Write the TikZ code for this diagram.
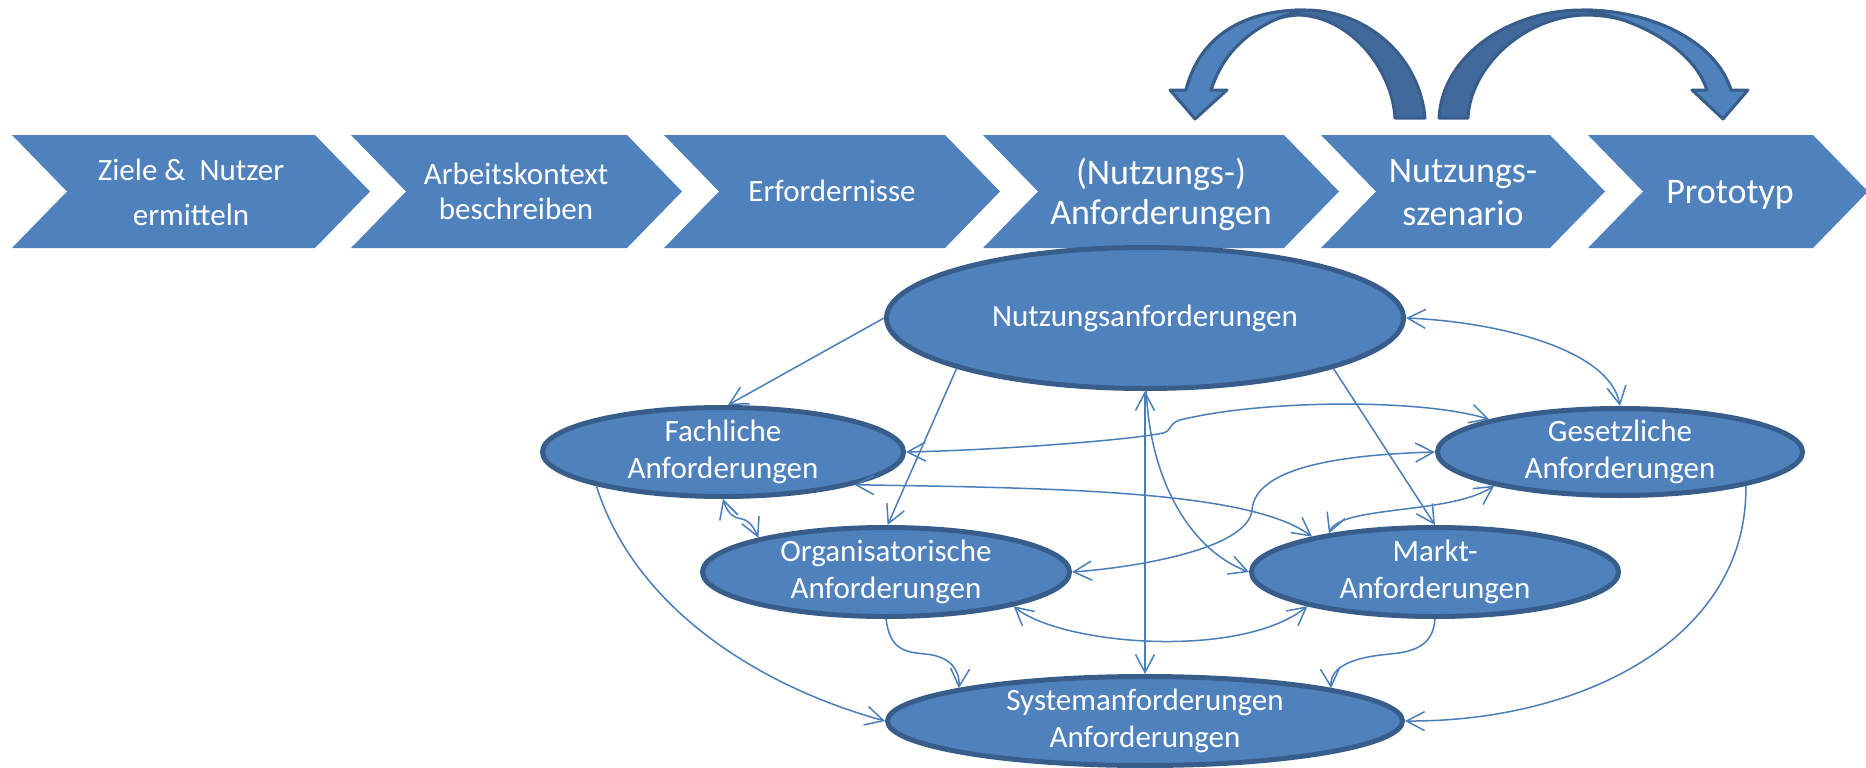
\documentclass[tikz,border=0pt]{standalone}
\usepackage{fontspec}
\setmainfont{Carlito}
\usetikzlibrary{arrows.meta,shapes.geometric}
\definecolor{boxblue}{HTML}{4F81BD}
\definecolor{edgeblue}{HTML}{385D8A}
\definecolor{lineblue}{HTML}{4A7EBB}
\definecolor{darkblue}{HTML}{41699C}
\begin{document}
\begin{tikzpicture}[x=1pt,y=-1pt,
  chev/.style={fill=boxblue},
  ctext/.style={text=white, align=center, inner sep=0pt},
  small/.style={font=\fontsize{31}{35}\selectfont},
  big/.style={font=\fontsize{36}{40}\selectfont},
  req/.style={ellipse, draw=edgeblue, line width=5pt, fill=boxblue, text=white,
    align=center, inner xsep=0pt, inner ysep=-20pt, font=\fontsize{31}{37}\selectfont},
  conn/.style={draw=lineblue, line width=1.5pt},
  >={Straight Barb[length=18pt,width=19pt]},
  bendarrow/.style={draw=edgeblue, line width=3pt, line join=round},
]
\useasboundingbox (0,0) rectangle (1866,768);

% process chevrons
\fill[chev] (12,135) -- (315,135) -- (370,191.5) -- (315,248) -- (12,248) -- (67,191.5) -- cycle;
\fill[chev] (351,135) -- (627,135) -- (682,191.5) -- (627,248) -- (351,248) -- (406,191.5) -- cycle;
\fill[chev] (664,135) -- (945,135) -- (1000,191.5) -- (945,248) -- (664,248) -- (719,191.5) -- cycle;
\fill[chev] (983,135) -- (1284,135) -- (1339,191.5) -- (1284,248) -- (983,248) -- (1038,191.5) -- cycle;
\fill[chev] (1321,135) -- (1550,135) -- (1605,191.5) -- (1550,248) -- (1321,248) -- (1376,191.5) -- cycle;
\fill[chev] (1588,135) -- (1813,135) -- (1868,191.5) -- (1813,248) -- (1588,248) -- (1643,191.5) -- cycle;

\node[ctext, font=\fontsize{31}{45}\selectfont] (c1) at (191,192) {Ziele \&\ \ Nutzer\\ermitteln};
\node[ctext, small] (c2) at (516,191.5) {Arbeitskontext\\beschreiben};
\node[ctext, small] (c3) at (832,191) {Erfordernisse};
\node[ctext, big] (c4) at (1161,194) {(Nutzungs-)\\Anforderungen};
\node[ctext, font=\fontsize{36}{43}\selectfont] (c5) at (1463,193) {Nutzungs-\\szenario};
\node[ctext, big] (c6) at (1730,195) {Prototyp};

% curved block arrows (left: back to Anforderungen)
\path[bendarrow, fill=darkblue] (1186,90) .. controls (1200,35) and (1245,10) .. (1305,10)
  .. controls (1368,10) and (1420,58) .. (1425,118) -- (1395,118)
  .. controls (1392,70) and (1352,18) .. (1300,15)
  .. controls (1260,16) and (1226,45) .. (1211,90) -- cycle;
\path[bendarrow, fill=boxblue] (1170,90) -- (1186,90) .. controls (1200,35) and (1245,10) .. (1305,10)
  .. controls (1258,20) and (1223,50) .. (1211,90) -- (1227,90) -- (1195,119) -- cycle;
% right: forward to Prototyp
\path[bendarrow, fill=darkblue] (1439,118) .. controls (1442,55) and (1510,10) .. (1582,10)
  .. controls (1650,10) and (1715,40) .. (1731,90) -- (1707,90)
  .. controls (1693,45) and (1640,15) .. (1585,15)
  .. controls (1520,17) and (1470,70) .. (1468,118) -- cycle;
\path[bendarrow, fill=boxblue] (1748,90) -- (1731,90) .. controls (1715,40) and (1650,10) .. (1582,10)
  .. controls (1637,18) and (1693,48) .. (1707,90) -- (1692,90) -- (1723,119) -- cycle;

% requirement ellipses
\node[req, minimum width=517pt, minimum height=141pt] (nutz) at (1145,318) {Nutzungsanforderungen};
\node[req, minimum width=361pt, minimum height=89pt] (fach) at (723,452) {Fachliche\\Anforderungen};
\node[req, minimum width=365pt, minimum height=87pt] (ges) at (1620,452) {Gesetzliche\\Anforderungen};
\node[req, minimum width=367pt, minimum height=89pt] (org) at (886,572) {Organisatorische\\Anforderungen};
\node[req, minimum width=367pt, minimum height=89pt] (markt) at (1435,572) {Markt-\\Anforderungen};
\node[req, minimum width=515pt, minimum height=89pt] (sys) at (1145,721) {Systemanforderungen\\Anforderungen};

% connectors
\draw[conn,->] (nutz.180) -- (fach.84);
\draw[conn,->] (nutz.195) -- (org.88);
\draw[conn,->] (nutz.345) -- (markt.90);
\draw[conn,<->] (nutz.0) .. controls (1500,322) and (1610,350) .. (ges.90);
\draw[conn,<->] (nutz.270) -- (sys.90);
\draw[conn,->] (nutz.271) .. controls (1150,480) and (1190,550) .. (markt.180);
\draw[conn,<->] (fach.0) .. controls (1000,450) and (1130,440) .. (1163,433)
  .. controls (1172,431) and (1168,424) .. (1180,420)
  .. controls (1260,400) and (1420,398) .. (ges.166);
\draw[conn,<->] (fach.346) .. controls (1050,488) and (1250,490) .. (markt.164);
\draw[conn,<->] (ges.180) .. controls (1330,455) and (1255,470) .. (1252,510)
  .. controls (1248,550) and (1130,568) .. (org.0);
\draw[conn,<->] (markt.160) .. controls (1340,505) and (1450,515) .. (ges.195);
\draw[conn,<->] (fach.270) .. controls (728,515) and (735,518) .. (742,519)
  .. controls (750,521) and (754,528) .. (org.165);
\draw[conn,->] (fach.195) .. controls (635,609) and (761,687) .. (sys.180);
\draw[conn,->] (ges.345) .. controls (1748,640) and (1580,722) .. (sys.0);
\draw[conn,->] (org.270) .. controls (890,650) and (905,652) .. (925,654)
  .. controls (950,656) and (960,670) .. (sys.170);
\draw[conn,->] (markt.270) .. controls (1433,648) and (1410,652) .. (1390,654)
  .. controls (1345,658) and (1330,670) .. (sys.10);
\draw[conn,<->] (org.345) .. controls (1060,645) and (1240,660) .. (markt.195);
\end{tikzpicture}
\end{document}
